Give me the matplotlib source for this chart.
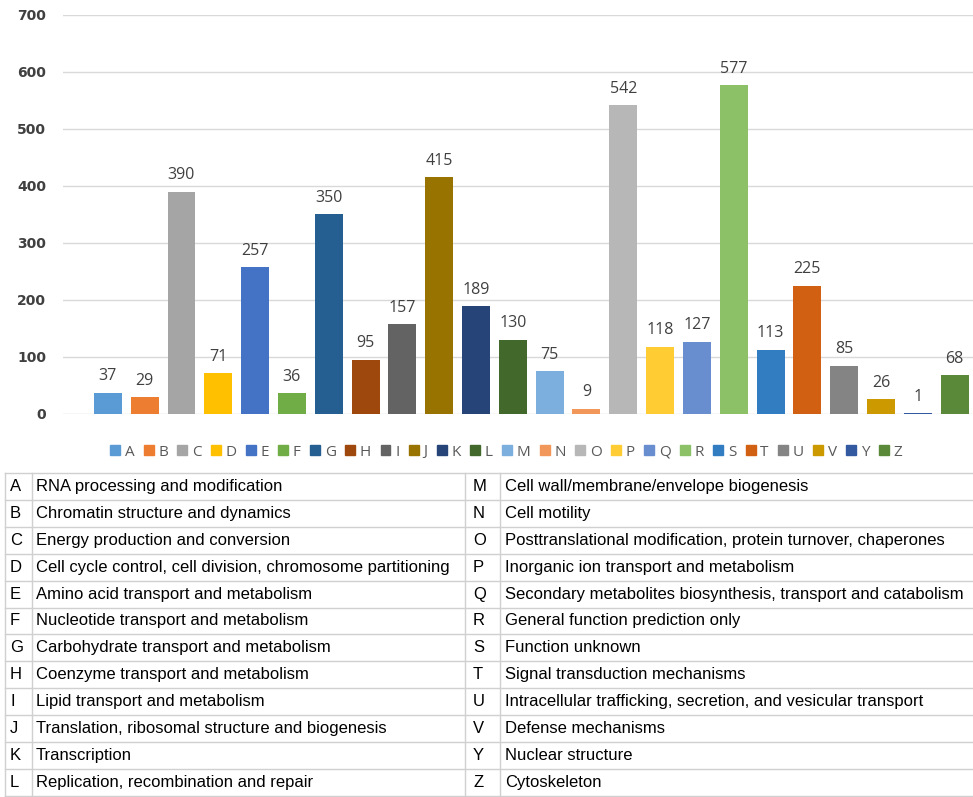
import matplotlib.pyplot as plt
from matplotlib.patches import Patch

# COG functional categories and gene counts
codes = ["A", "B", "C", "D", "E", "F", "G", "H", "I", "J", "K", "L",
         "M", "N", "O", "P", "Q", "R", "S", "T", "U", "V", "Y", "Z"]
counts = [37, 29, 390, 71, 257, 36, 350, 95, 157, 415, 189, 130,
          75, 9, 542, 118, 127, 577, 113, 225, 85, 26, 1, 68]
colors = ["#5B9BD5", "#ED7D31", "#A5A5A5", "#FFC000", "#4472C4", "#70AD47",
          "#255E91", "#9E480E", "#636363", "#997300", "#264478", "#43682B",
          "#7CAFDD", "#F1975A", "#B7B7B7", "#FFCD33", "#698ED0", "#8CC168",
          "#327DC2", "#D26012", "#848484", "#CC9A00", "#335AA1", "#5A8A39"]
descriptions = [
    "RNA processing and modification",
    "Chromatin structure and dynamics",
    "Energy production and conversion",
    "Cell cycle control, cell division, chromosome partitioning",
    "Amino acid transport and metabolism",
    "Nucleotide transport and metabolism",
    "Carbohydrate transport and metabolism",
    "Coenzyme transport and metabolism",
    "Lipid transport and metabolism",
    "Translation, ribosomal structure and biogenesis",
    "Transcription",
    "Replication, recombination and repair",
    "Cell wall/membrane/envelope biogenesis",
    "Cell motility",
    "Posttranslational modification, protein turnover, chaperones",
    "Inorganic ion transport and metabolism",
    "Secondary metabolites biosynthesis, transport and catabolism",
    "General function prediction only",
    "Function unknown",
    "Signal transduction mechanisms",
    "Intracellular trafficking, secretion, and vesicular transport",
    "Defense mechanisms",
    "Nuclear structure",
    "Cytoskeleton",
]

plt.rcParams['font.family'] = ['Liberation Sans', 'DejaVu Sans']

fig = plt.figure(figsize=(9.73, 7.97), dpi=100)

# ---- bar chart ----
ax = fig.add_axes([0.0647, 0.4806, 0.9353, 0.5006])
x = range(len(codes))
bars = ax.bar(x, counts, width=0.76, color=colors, zorder=3)
for xi, v in zip(x, counts):
    ax.annotate(str(v), (xi, v), xytext=(0, 9), textcoords="offset points",
                ha="center", va="baseline", fontsize=11.5, color="#404040",
                family=["Open Sans", "DejaVu Sans"])

ax.set_xlim(-1.22, 23.5)
ax.set_ylim(0, 700)
ax.set_yticks(range(0, 701, 100))
ax.yaxis.grid(True, color="#D9D9D9", linewidth=1, zorder=0)
ax.set_xticks([])
for s in ax.spines.values():
    s.set_visible(False)
ax.tick_params(axis="y", length=0, pad=12, labelsize=10, labelcolor="#404040")
for lab in ax.get_yticklabels():
    lab.set_fontweight("bold")
    lab.set_family(["DejaVu Sans"])

handles = [Patch(color=c, label=k) for c, k in zip(colors, codes)]
fig.legend(handles=handles, loc="center", ncol=len(codes),
           bbox_to_anchor=(0.52, 1 - 452 / 797), frameon=False,
           handlelength=0.65, handleheight=0.65, handletextpad=0.3,
           columnspacing=0.62, prop={"family": ["Open Sans", "DejaVu Sans"], "size": 11},
           labelcolor="#595959")

# ---- category table ----
tab = fig.add_axes([0, 0, 1, 1])
tab.set_xlim(0, 973)
tab.set_ylim(797, 0)
tab.axis("off")

n_rows = 12
top = 473
row_h = 26.9
line_c = "#D0D0D0"
for r in range(n_rows + 1):
    y = top + r * row_h
    tab.plot([5, 973], [y, y], color=line_c, linewidth=1)
for xv in [5, 32, 465, 500]:
    tab.plot([xv, xv], [top, top + n_rows * row_h], color=line_c, linewidth=1)

for i in range(n_rows):
    y = top + (i + 0.5) * row_h
    left, right = i, i + n_rows
    tab.text(10, y, codes[left], va="center", fontsize=12, color="black")
    tab.text(36, y, descriptions[left], va="center", fontsize=12, color="black")
    tab.text(473, y, codes[right], va="center", fontsize=12, color="black")
    tab.text(505, y, descriptions[right], va="center", fontsize=12, color="black")

fig.savefig("out.png", dpi=100)
